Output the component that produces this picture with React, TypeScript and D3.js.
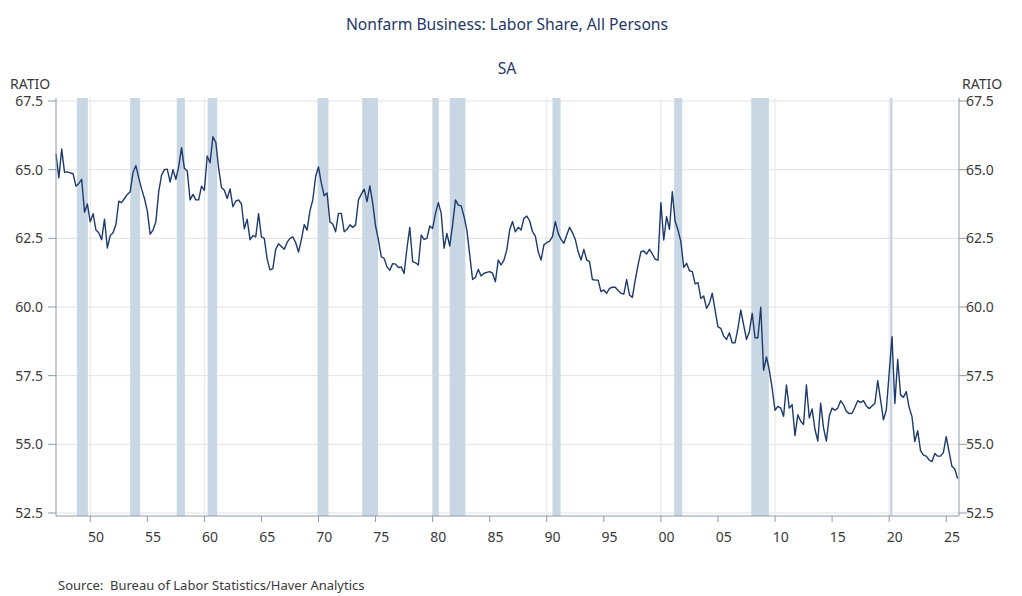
import * as d3 from 'd3';
import React from 'react';

// quarterly labor share, starting 1947 Q1
const startYear = 1947;
const laborShare = [
  65.58, 64.7, 65.75, 64.9, 64.92, 64.88, 64.85, 64.4, 64.5, 64.65,
  63.45, 63.75, 63.1, 63.4, 62.8, 62.7, 62.45, 63.2, 62.15, 62.6,
  62.7, 63.0, 63.85, 63.8, 63.95, 64.1, 64.2, 64.9, 65.15, 64.7,
  64.3, 63.95, 63.5, 62.65, 62.8, 63.1, 64.2, 64.8, 65.0, 65.02,
  64.55, 65.0, 64.65, 65.1, 65.8, 65.05, 64.95, 63.9, 64.1, 63.9,
  63.9, 64.4, 64.25, 65.5, 65.25, 66.2, 66.0, 65.05, 64.35, 64.25,
  63.95, 64.3, 63.65, 63.85, 63.9, 63.75, 62.85, 63.2, 62.45, 62.6,
  62.55, 63.4, 62.55, 62.5, 61.75, 61.35, 61.4, 62.1, 62.3, 62.2,
  62.1, 62.35, 62.5, 62.55, 62.35, 62.0, 62.45, 63.0, 62.8, 63.5,
  63.9, 64.75, 65.1, 64.5, 64.05, 64.15, 63.1, 63.02, 62.74, 63.41,
  63.41, 62.74, 62.83, 62.99, 62.9, 62.99, 63.9, 64.11, 64.29, 63.84,
  64.41, 63.78, 62.95, 62.44, 61.83, 61.77, 61.46, 61.34, 61.58, 61.56,
  61.44, 61.46, 61.22, 62.14, 62.9, 61.65, 61.61, 61.53, 62.62, 62.46,
  62.5, 62.95, 62.86, 63.41, 63.8, 63.41, 62.14, 62.68, 62.22, 62.99,
  63.9, 63.71, 63.68, 63.3, 62.8, 61.9, 61.0, 61.08, 61.37, 61.13,
  61.23, 61.26, 61.29, 61.23, 60.92, 61.71, 61.53, 61.71, 62.08, 62.8,
  63.11, 62.74, 62.9, 62.8, 63.23, 63.31, 63.14, 62.74, 62.58, 62.01,
  61.71, 62.26, 62.34, 62.4, 62.56, 63.11, 62.68, 62.46, 62.32, 62.62,
  62.9, 62.71, 62.46, 62.01, 61.71, 62.1, 61.71, 61.65, 61.0, 60.98,
  60.98, 60.56, 60.62, 60.5, 60.68, 60.72, 60.72, 60.6, 60.5, 60.47,
  61.0, 60.44, 60.35, 60.98, 61.53, 62.01, 62.04, 61.93, 62.1, 61.93,
  61.74, 61.71, 63.8, 62.44, 63.29, 62.83, 64.2, 63.11, 62.8, 62.38,
  61.44, 61.59, 61.32, 61.29, 60.84, 60.89, 60.31, 60.4, 59.95, 60.13,
  60.5, 59.89, 59.28, 59.22, 58.94, 58.82, 59.06, 58.7, 58.7, 59.22,
  59.89, 59.35, 58.82, 59.1, 59.77, 58.88, 58.88, 59.99, 57.7, 58.18,
  57.7, 57.04, 56.24, 56.38, 56.32, 56.02, 57.16, 56.32, 56.44, 55.32,
  56.08, 55.84, 55.72, 57.16, 55.96, 56.29, 55.54, 55.12, 56.5, 55.6,
  55.12, 56.02, 56.32, 56.24, 56.32, 56.59, 56.44, 56.2, 56.12, 56.13,
  56.35, 56.59, 56.52, 56.59, 56.4, 56.3, 56.4, 56.49, 57.32, 56.61,
  55.89, 56.25, 57.58, 58.92, 56.49, 58.09, 56.8, 56.71, 56.92, 56.35,
  56.01, 55.1, 55.5, 54.77, 54.61, 54.57, 54.43, 54.37, 54.67, 54.57,
  54.57, 54.7, 55.28, 54.73, 54.2, 54.1, 53.75,
];

// NBER recessions, decimal years
const recessionStart = [1948.83, 1953.5, 1957.58, 1960.29, 1969.92, 1973.83, 1980.0, 1981.5, 1990.5, 2001.17, 2007.92, 2020.08];
const recessionEnd = [1949.79, 1954.37, 1958.29, 1961.12, 1970.87, 1975.21, 1980.54, 1982.87, 1991.21, 2001.87, 2009.46, 2020.29];

const yTicks = [52.5, 55.0, 57.5, 60.0, 62.5, 65.0, 67.5];
const xTicks = d3.range(1950, 2026, 5);
const decadeLines = d3.range(1950, 2021, 10);

const title = 'Nonfarm Business: Labor Share, All Persons';
const subtitle = 'SA';
const unitLabel = 'RATIO';
const sourceText = 'Source:  Bureau of Labor Statistics/Haver Analytics';

const W = 1022, H = 596;
const left = 56, right = 959, top = 98, bottom = 516;
const font = '"Noto Sans", "Open Sans", sans-serif';

export default function App() {
  const x = d3.scaleLinear().domain([1947, 2026.12]).range([left, right]);
  const y = d3.scaleLinear().domain([52.5, 67.5]).range([513, 101]);

  const pts = laborShare.map((v, i) => ({ t: startYear + i / 4, v }));
  const line = d3.line<{ t: number; v: number }>()
    .x(d => x(d.t))
    .y(d => y(d.v));

  const axisColor = '#8d9aa8';
  const textColor = '#3a3a3a';

  return (
    <div style={{ position: 'absolute', left: 0, top: 0 }}>
      <svg width={W} height={H} style={{ display: 'block', background: '#fff' }} fontFamily={font}>
        <text x={507} y={30} textAnchor="middle" fontSize={15.7} fill="#1f3868">{title}</text>
        <text x={507} y={74} textAnchor="middle" fontSize={15.7} fill="#1f3868">{subtitle}</text>

        {/* gridlines */}
        {yTicks.map(t => (
          <line key={'gy' + t} x1={left} x2={right} y1={y(t)} y2={y(t)} stroke="#e2e2e2" strokeWidth={1} />
        ))}
        {decadeLines.map(t => (
          <line key={'gx' + t} x1={x(t)} x2={x(t)} y1={top} y2={bottom} stroke="#e6e6e6" strokeWidth={1} />
        ))}

        {/* recession shading */}
        {recessionStart.map((s, i) => (
          <rect key={'r' + i} x={x(s)} y={top} width={Math.max(1.5, x(recessionEnd[i]) - x(s))}
            height={bottom - top} fill="#c8d7e3" />
        ))}

        <path d={line(pts) || ''} fill="none" stroke="#1d3a6c" strokeWidth={1.4} strokeLinejoin="round" />

        {/* axes */}
        <line x1={left} x2={left} y1={top} y2={bottom} stroke={axisColor} />
        <line x1={right} x2={right} y1={top} y2={bottom} stroke={axisColor} />
        <line x1={left} x2={right} y1={bottom} y2={bottom} stroke={axisColor} />

        {yTicks.map(t => (
          <g key={'yt' + t}>
            <line x1={left - 8} x2={left} y1={y(t)} y2={y(t)} stroke={axisColor} />
            <line x1={right} x2={right + 8} y1={y(t)} y2={y(t)} stroke={axisColor} />
            <text x={43} y={y(t) + 5} textAnchor="end" fontSize={14} fill={textColor}>{t.toFixed(1)}</text>
            <text x={966} y={y(t) + 5} textAnchor="start" fontSize={14} fill={textColor}>{t.toFixed(1)}</text>
          </g>
        ))}
        <text x={10} y={89} fontSize={14} fill={textColor}>{unitLabel}</text>
        <text x={962} y={89} fontSize={14} fill={textColor}>{unitLabel}</text>

        {xTicks.map(t => (
          <g key={'xt' + t}>
            <line x1={x(t)} x2={x(t)} y1={bottom} y2={bottom + 6} stroke={axisColor} />
            <text x={x(t + 0.5)} y={542} textAnchor="middle" fontSize={14} fill={textColor}>
              {String(t % 100).padStart(2, '0')}
            </text>
          </g>
        ))}

        <text x={58} y={590} fontSize={13} fill={textColor} style={{ whiteSpace: 'pre' }}>{sourceText}</text>
      </svg>
    </div>
  );
}
